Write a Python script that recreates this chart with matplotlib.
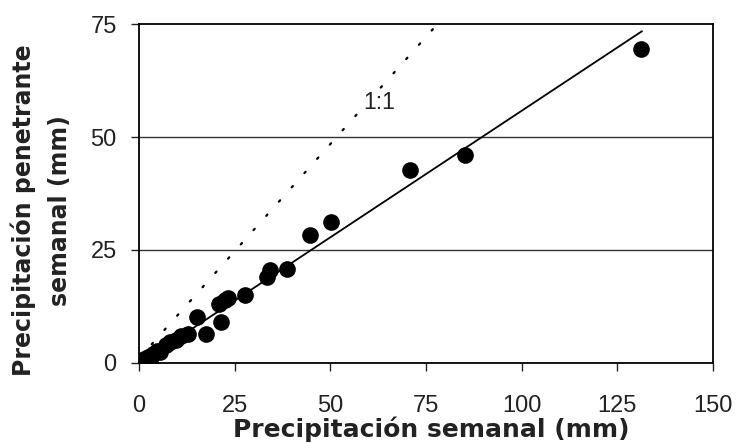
"""
Precipitación penetrante vs. precipitación semanal, with fitted line and 1:1 line.
"""

import matplotlib
matplotlib.use("Agg")
import matplotlib.pyplot as plt

# Weekly rainfall (x) and throughfall (y), mm
precip_semanal = [131.1, 85.3, 70.8, 50.3, 44.7, 38.6, 34.2, 33.4, 27.7, 23.3,
                  22.5, 21.0, 21.5, 15.2, 17.6, 12.8, 11.0, 9.6, 8.1, 7.0,
                  5.5, 4.6, 3.7, 2.4, 1.2, 0.3, 2.9]
precip_penetrante = [69.4, 46.0, 42.6, 31.3, 28.3, 20.9, 20.6, 19.1, 15.0, 14.3,
                     13.9, 13.1, 9.1, 10.1, 6.4, 6.4, 5.9, 5.1, 4.7, 4.0,
                     2.4, 2.7, 2.1, 1.4, 0.8, 0.3, 0.2]

# Fitted line drawn in the figure (slope, intercept) and its x extent
fit_slope = 0.56
fit_intercept = -0.2
fit_x = [0.0, 131.4]

# 1:1 reference line as drawn
ref_x = [0.0, 78.0]
ref_y = [1.0, 75.0]

x_ticks = [0, 25, 50, 75, 100, 125, 150]
y_ticks = [0, 25, 50, 75]


def main() -> None:
    fig = plt.figure(figsize=(7.4, 4.43), dpi=100)
    ax = fig.add_axes([0.1878, 0.1806, 0.7757, 0.7652])

    # horizontal grid
    for yv in y_ticks[1:-1]:
        ax.axhline(yv, color="#333333", lw=1.0, zorder=1)

    ax.plot(ref_x, ref_y, color="black", lw=1.6, linestyle=(0, (0.8, 7.8)),
            dash_capstyle="round", zorder=2)
    fit_y = [fit_slope * v + fit_intercept for v in fit_x]
    ax.plot(fit_x, fit_y, color="black", lw=1.3, zorder=2)
    ax.plot(precip_semanal, precip_penetrante, "o", color="black",
            markersize=12, markeredgewidth=0, zorder=3)

    ax.text(62.7, 57.6, "1:1", fontsize=16.5, family="Liberation Sans",
            ha="center", va="center", color="#222222", zorder=2.5,
            bbox=dict(facecolor="white", edgecolor="none", pad=1.5))

    ax.set_xlim(0, 150)
    ax.set_ylim(0, 75)
    ax.set_xticks(x_ticks)
    ax.set_yticks(y_ticks)
    ax.tick_params(direction="out", length=6, width=1.0, labelsize=17,
                   colors="#222222")
    ax.tick_params(axis="x", pad=17)
    ax.tick_params(axis="y", pad=10)
    for lab in ax.get_xticklabels() + ax.get_yticklabels():
        lab.set_family("Liberation Sans")
    for sp in ax.spines.values():
        sp.set_linewidth(1.3)
        sp.set_color("black")

    ax.set_xlabel("Precipitación semanal (mm)", fontsize=18,
                  fontweight="bold", family="DejaVu Sans", color="#222222")
    ax.xaxis.set_label_coords(0.51, -0.158)
    ax.set_ylabel("Precipitación penetrante\nsemanal (mm)", fontsize=17,
                  fontweight="bold", family="DejaVu Sans", color="#222222",
                  linespacing=1.6)
    ax.yaxis.set_label_coords(-0.117, 0.45)

    fig.savefig("out.png", dpi=100, facecolor="white")


if __name__ == "__main__":
    main()
